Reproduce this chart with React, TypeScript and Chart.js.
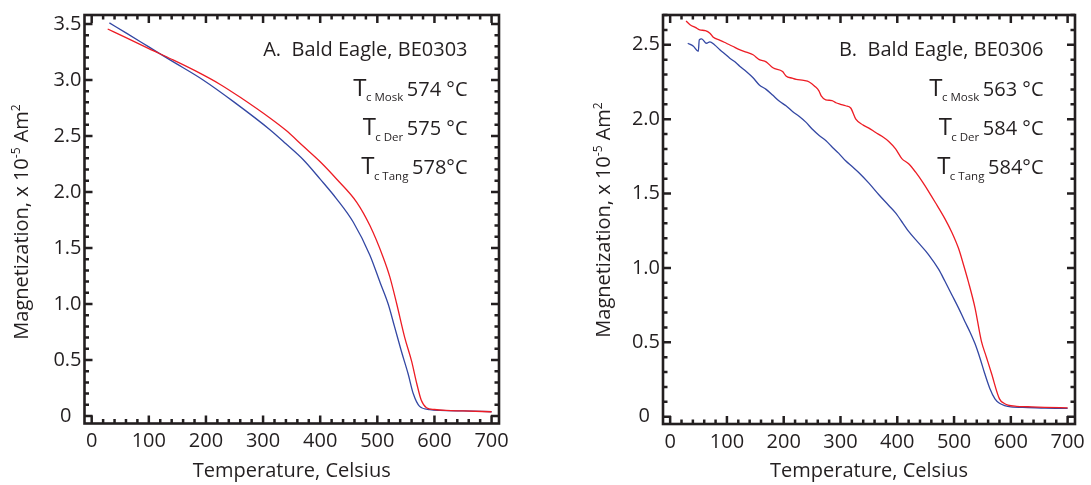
import React, { useEffect, useRef } from 'react';
import { Chart, registerables } from 'chart.js';

Chart.register(...registerables);

const FONT = '"Open Sans", "Noto Sans", sans-serif';
const INK = '#231f20';
const RED = '#ed1c24';
const BLUE = '#3347a3';

// ---------- Panel A : BE0303 ----------
const aRedTemp = [28, 60, 100, 140, 180, 225, 260, 312, 340, 370, 400, 429, 464, 487, 510, 522, 534, 548, 560, 569, 577, 586, 600, 620, 650, 700];
const aRedMag = [3.455, 3.378, 3.28, 3.185, 3.085, 2.96, 2.845, 2.66, 2.55, 2.41, 2.27, 2.114, 1.908, 1.70, 1.42, 1.24, 1.0, 0.70, 0.49, 0.29, 0.14, 0.074, 0.058, 0.05, 0.045, 0.038];
const aBlueTemp = [31, 60, 100, 140, 195, 250, 312, 340, 370, 400, 429, 458, 487, 505, 519, 530, 542, 554, 563, 574, 592, 610, 650, 700];
const aBlueMag = [3.51, 3.42, 3.295, 3.17, 3.0, 2.80, 2.556, 2.43, 2.29, 2.115, 1.937, 1.73, 1.436, 1.19, 1.0, 0.80, 0.58, 0.375, 0.198, 0.086, 0.057, 0.05, 0.045, 0.038];

// ---------- Panel B : BE0306 ----------
const bRedTemp = [28, 35, 45, 52, 62, 70, 76, 88, 99, 110, 122, 134, 146, 157, 169, 181, 198, 204, 215, 222, 235, 245, 255, 262, 266, 274, 285, 292, 300, 309, 318, 327, 340, 350, 362, 373, 385, 397, 408, 420, 432, 445, 455, 467, 484, 496, 508, 516, 525, 537, 548, 557, 566, 580, 588, 595, 610, 630, 660, 700];
const bRedMag = [2.66, 2.635, 2.615, 2.60, 2.595, 2.578, 2.55, 2.53, 2.51, 2.49, 2.467, 2.45, 2.433, 2.40, 2.385, 2.345, 2.32, 2.29, 2.275, 2.267, 2.26, 2.25, 2.22, 2.19, 2.156, 2.13, 2.125, 2.11, 2.10, 2.09, 2.075, 2.0, 1.96, 1.94, 1.91, 1.885, 1.85, 1.80, 1.735, 1.70, 1.645, 1.575, 1.515, 1.44, 1.33, 1.24, 1.13, 1.03, 0.91, 0.73, 0.51, 0.40, 0.29, 0.12, 0.09, 0.078, 0.07, 0.067, 0.063, 0.06];
const bBlueTemp = [31, 41, 49.6, 51.3, 55.5, 64, 70, 78, 87.5, 96, 105, 114, 122.5, 134, 146, 157, 169, 181, 192.5, 204, 216, 227, 239, 251, 262.5, 274, 286, 297, 309, 321, 332.5, 350, 368, 385, 397, 410, 420, 437, 455, 473, 484, 496, 508, 519, 528, 537, 546, 554, 563, 572, 580, 589, 600, 630, 660, 700];
const bBlueMag = [2.51, 2.49, 2.456, 2.533, 2.54, 2.51, 2.52, 2.50, 2.467, 2.44, 2.41, 2.385, 2.356, 2.32, 2.278, 2.23, 2.20, 2.16, 2.12, 2.09, 2.05, 2.02, 1.98, 1.93, 1.89, 1.856, 1.81, 1.77, 1.72, 1.68, 1.64, 1.57, 1.49, 1.42, 1.37, 1.30, 1.245, 1.17, 1.09, 0.99, 0.91, 0.82, 0.73, 0.64, 0.57, 0.49, 0.39, 0.29, 0.19, 0.12, 0.09, 0.075, 0.066, 0.062, 0.058, 0.056];

// ---------- Axes / text ----------
const xTickValues = [0, 100, 200, 300, 400, 500, 600, 700];
const aYTickValues = [0, 0.5, 1.0, 1.5, 2.0, 2.5, 3.0, 3.5];
const bYTickValues = [0, 0.5, 1.0, 1.5, 2.0, 2.5];
const xMinorStep = 20;
const yMinorStep = 0.1;
const xTitle = 'Temperature, Celsius';
const yTitleParts = ['Magnetization, x 10', '-5', ' Am', '2'];
const curieSubs = ['c Mosk', 'c Der', 'c Tang'];
const aTitle = 'A.  Bald Eagle, BE0303';
const aCurieVals = ['574 °C', '575 °C', '578°C'];
const bTitle = 'B.  Bald Eagle, BE0306';
const bCurieVals = ['563 °C', '584 °C', '584°C'];

const framePlugin = {
  id: 'frame',
  afterDraw(chart: any, _args: any, opts: any) {
    const { ctx, chartArea: a, scales } = chart;
    const xs = scales.x;
    const ys = scales.y;
    ctx.save();
    ctx.strokeStyle = INK;
    ctx.lineWidth = 2.5;
    ctx.lineCap = 'butt';
    const majLen = 8;
    const minLen = 4.5;
    ctx.beginPath();
    const nx = Math.round((xTickValues[xTickValues.length - 1] - xTickValues[0]) / xMinorStep);
    for (let i = 0; i <= nx; i++) {
      const v = xTickValues[0] + i * xMinorStep;
      const px = xs.getPixelForValue(v);
      const len = i % 5 === 0 ? majLen : minLen;
      ctx.moveTo(px, a.bottom);
      ctx.lineTo(px, a.bottom - len);
      ctx.moveTo(px, a.top);
      ctx.lineTo(px, a.top + len);
    }
    const ny = Math.floor((ys.max + 1e-9) / yMinorStep);
    for (let i = 0; i <= ny; i++) {
      const v = i * yMinorStep;
      const py = ys.getPixelForValue(v);
      const len = i % 5 === 0 ? majLen : minLen;
      ctx.moveTo(a.left, py);
      ctx.lineTo(a.left + len, py);
      ctx.moveTo(a.right, py);
      ctx.lineTo(a.right - len, py);
    }
    ctx.stroke();
    ctx.lineWidth = 2.6;
    ctx.strokeRect(a.left, a.top, a.right - a.left, a.bottom - a.top);

    // annotations
    ctx.fillStyle = INK;
    ctx.textBaseline = 'alphabetic';
    const rx = a.right - opts.rightInset;
    ctx.font = `20px ${FONT}`;
    ctx.textAlign = 'right';
    ctx.fillText(opts.title, rx, a.top + 41);
    ctx.textAlign = 'left';
    const rowOff = [80.5, 120, 159];
    for (let i = 0; i < curieSubs.length; i++) {
      const base = a.top + rowOff[i];
      ctx.font = `20px ${FONT}`;
      const val = opts.vals[i];
      const valW = ctx.measureText(val).width;
      const spW = ctx.measureText(' ').width * 0.7;
      let x = rx - valW;
      ctx.fillText(val, x, base);
      ctx.font = `11.5px ${FONT}`;
      const subW = ctx.measureText(curieSubs[i]).width;
      x -= spW + subW;
      ctx.fillText(curieSubs[i], x, base + 5.5);
      ctx.font = `24px ${FONT}`;
      const tW = ctx.measureText('T').width;
      x -= tW * 0.95;
      ctx.fillText('T', x, base);
    }

    // y-axis title (rotated)
    ctx.save();
    ctx.translate(opts.yTitleX, opts.yTitleY);
    ctx.rotate(-Math.PI / 2);
    const sizes = [20, 12, 20, 12];
    const rise = [0, -8.5, 0, -8.5];
    let total = 0;
    const widths: number[] = [];
    for (let i = 0; i < yTitleParts.length; i++) {
      ctx.font = `${sizes[i]}px ${FONT}`;
      const w = ctx.measureText(yTitleParts[i]).width;
      widths.push(w);
      total += w;
    }
    let tx = -total / 2;
    for (let i = 0; i < yTitleParts.length; i++) {
      ctx.font = `${sizes[i]}px ${FONT}`;
      ctx.fillText(yTitleParts[i], tx, rise[i]);
      tx += widths[i];
    }
    ctx.restore();
    ctx.restore();
  },
};

type Panel = {
  redT: number[]; redM: number[]; blueT: number[]; blueM: number[];
  yTicks: number[]; yMin: number; yMax: number;
  padLeft: number; padRight: number; yAxisW: number; xAxisH: number;
  title: string; vals: string[]; yTitleX: number; yTitleY: number;
};

function makeConfig(p: Panel): any {
  return {
    type: 'line',
    data: {
      datasets: [
        {
          data: p.redT.map((t, i) => ({ x: t, y: p.redM[i] })),
          borderColor: RED, borderWidth: 1.3, pointRadius: 0, fill: false,
          cubicInterpolationMode: 'monotone',
        },
        {
          data: p.blueT.map((t, i) => ({ x: t, y: p.blueM[i] })),
          borderColor: BLUE, borderWidth: 1.3, pointRadius: 0, fill: false,
          cubicInterpolationMode: 'monotone',
        },
      ],
    },
    options: {
      responsive: false,
      animation: false,
      events: [],
      layout: { padding: { left: p.padLeft, right: p.padRight, top: 11, bottom: 0 } },
      plugins: {
        legend: { display: false },
        tooltip: { enabled: false },
        title: { display: false },
        frame: { title: p.title, vals: p.vals, rightInset: 31.5, yTitleX: p.yTitleX, yTitleY: p.yTitleY },
      },
      scales: {
        x: {
          type: 'linear',
          min: -12.6,
          max: 713,
          grid: { display: false, drawTicks: false },
          border: { display: false },
          afterBuildTicks: (s: any) => { s.ticks = xTickValues.map((v) => ({ value: v })); },
          afterFit: (s: any) => { s.height = p.xAxisH; },
          ticks: {
            font: { family: FONT, size: 20 }, color: INK, padding: 6,
            maxRotation: 0, autoSkip: false,
            callback: (v: any) => String(v),
          },
          title: {
            display: true, text: xTitle, color: INK,
            font: { family: FONT, size: 20 }, padding: { top: 0, bottom: 2 },
          },
        },
        y: {
          type: 'linear',
          min: p.yMin,
          max: p.yMax,
          grid: { display: false, drawTicks: false },
          border: { display: false },
          afterBuildTicks: (s: any) => { s.ticks = p.yTicks.map((v) => ({ value: v })); },
          afterFit: (s: any) => { s.width = p.yAxisW; },
          ticks: {
            font: { family: FONT, size: 20 }, color: INK, padding: 3, autoSkip: false,
            callback: (v: any) => (v === 0 ? '0\u2002' : Number(v).toFixed(1)),
          },
        },
      },
    },
    plugins: [framePlugin],
  };
}

const panelA: Panel = {
  redT: aRedTemp, redM: aRedMag, blueT: aBlueTemp, blueM: aBlueMag,
  yTicks: aYTickValues, yMin: -0.067, yMax: 3.58,
  padLeft: 0.5, padRight: 46, yAxisW: 84, xAxisH: 61.5,
  title: aTitle, vals: aCurieVals, yTitleX: 28, yTitleY: 222,
};

const panelB: Panel = {
  redT: bRedTemp, redM: bRedMag, blueT: bBlueTemp, blueM: bBlueMag,
  yTicks: bYTickValues, yMin: -0.049, yMax: 2.70,
  padLeft: 0, padRight: 13, yAxisW: 118, xAxisH: 61,
  title: bTitle, vals: bCurieVals, yTitleX: 65, yTitleY: 220,
};

function ChartPanel({ panel, left, width }: { panel: Panel; left: number; width: number }) {
  const ref = useRef<HTMLCanvasElement | null>(null);
  useEffect(() => {
    if (!ref.current) return;
    const chart = new Chart(ref.current, makeConfig(panel));
    return () => chart.destroy();
  }, [panel]);
  return (
    <canvas
      ref={ref}
      width={width}
      height={485}
      style={{ position: 'absolute', left, top: 0, width, height: 485 }}
    />
  );
}

export default function App() {
  return (
    <div style={{ position: 'absolute', left: 0, top: 0, width: 1091, height: 485, background: '#fff', overflow: 'hidden' }}>
      <ChartPanel panel={panelA} left={0} width={545} />
      <ChartPanel panel={panelB} left={545} width={546} />
    </div>
  );
}
